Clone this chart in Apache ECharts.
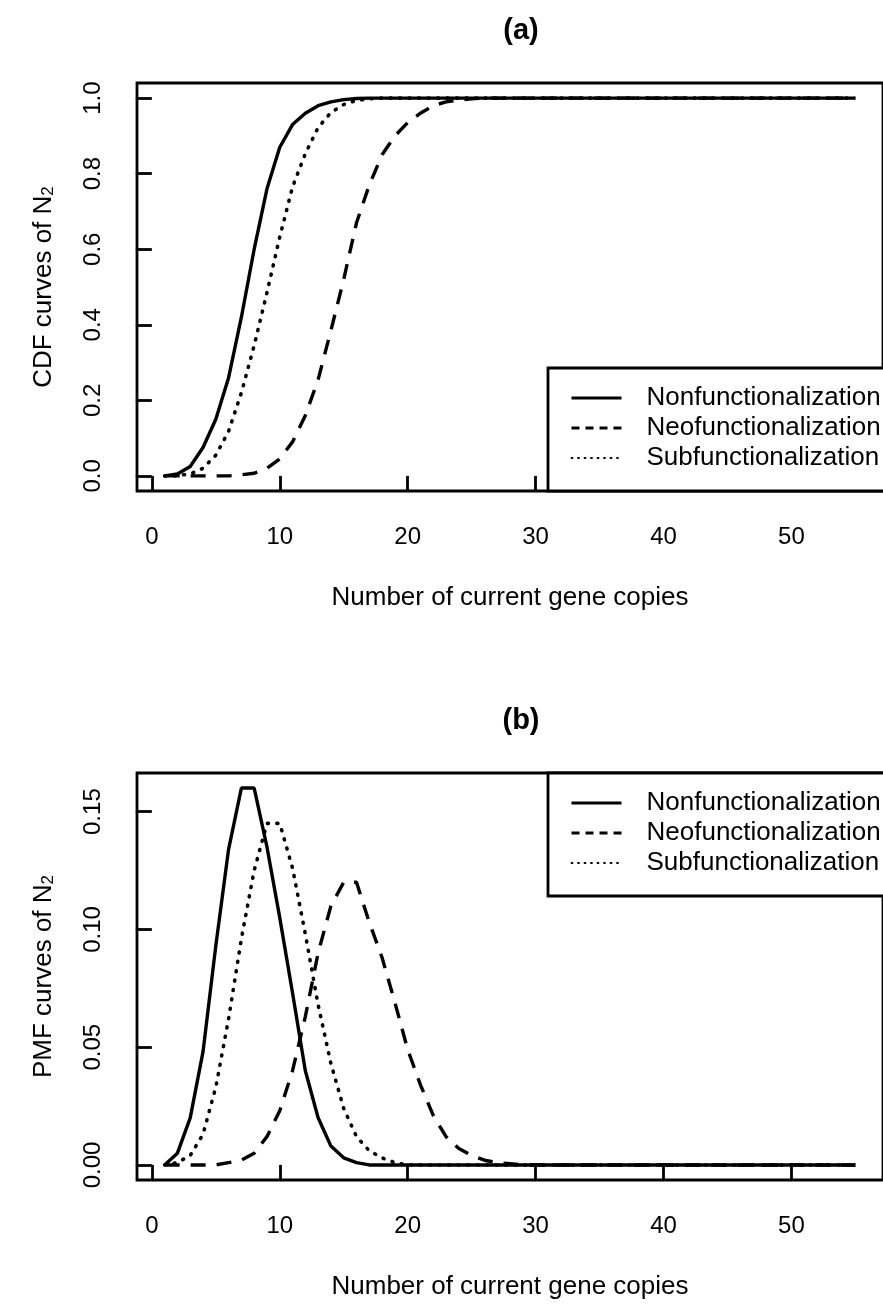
<!DOCTYPE html>
<html>
<head>
<meta charset="utf-8">
<title>CDF / PMF of N2</title>
<script src="https://cdn.jsdelivr.net/npm/echarts@6/dist/echarts.min.js"></script>
<style>
  html, body { margin: 0; padding: 0; background: #fff; overflow: hidden; }
  #chart { width: 883px; height: 1305px; }
</style>
</head>
<body>
<div id="chart"></div>
<script>
// B data
var counts = [1, 2, 3, 4, 5, 6, 7, 8, 9, 10, 11, 12, 13, 14, 15, 16, 17, 18, 19, 20,
  21, 22, 23, 24, 25, 26, 27, 28, 29, 30, 31, 32, 33, 34, 35, 36, 37, 38, 39, 40,
  41, 42, 43, 44, 45, 46, 47, 48, 49, 50, 51, 52, 53, 54, 55]
var seriesNames = ['Nonfunctionalization', 'Neofunctionalization', 'Subfunctionalization']
var xTicks = [0, 10, 20, 30, 40, 50]
var cdfTicks = [0, 0.2, 0.4, 0.6, 0.8, 1.0]
var pmfTicks = [0, 0.05, 0.10, 0.15]

// (a) CDF
var cdfNon = [0, 0.005, 0.025, 0.075, 0.15, 0.26, 0.42, 0.6, 0.76, 0.87,
  0.93, 0.96, 0.98, 0.99, 0.996, 0.999, 1, 1, 1, 1,
  1, 1, 1, 1, 1, 1, 1, 1, 1, 1, 1, 1, 1, 1, 1, 1, 1, 1, 1, 1,
  1, 1, 1, 1, 1, 1, 1, 1, 1, 1, 1, 1, 1, 1, 1]
var cdfNeo = [0, 0, 0, 0, 0, 0, 0.003, 0.007, 0.02, 0.045,
  0.09, 0.16, 0.255, 0.385, 0.52, 0.67, 0.77, 0.85, 0.9, 0.935,
  0.96, 0.98, 0.99, 0.995, 0.998, 1, 1, 1, 1, 1, 1, 1, 1, 1, 1, 1, 1, 1, 1, 1,
  1, 1, 1, 1, 1, 1, 1, 1, 1, 1, 1, 1, 1, 1, 1]
var cdfSub = [0, 0.001, 0.005, 0.02, 0.055, 0.118, 0.22, 0.345, 0.485, 0.632,
  0.765, 0.853, 0.922, 0.962, 0.983, 0.994, 0.998, 1, 1, 1,
  1, 1, 1, 1, 1, 1, 1, 1, 1, 1, 1, 1, 1, 1, 1, 1, 1, 1, 1, 1,
  1, 1, 1, 1, 1, 1, 1, 1, 1, 1, 1, 1, 1, 1, 1]

// (b) PMF
var pmfNon = [0, 0.005, 0.02, 0.048, 0.093, 0.134, 0.16, 0.16, 0.135, 0.105,
  0.073, 0.04, 0.02, 0.008, 0.003, 0.001, 0, 0, 0, 0,
  0, 0, 0, 0, 0, 0, 0, 0, 0, 0, 0, 0, 0, 0, 0, 0, 0, 0, 0, 0,
  0, 0, 0, 0, 0, 0, 0, 0, 0, 0, 0, 0, 0, 0, 0]
var pmfNeo = [0, 0, 0, 0, 0, 0.001, 0.002, 0.005, 0.012, 0.023,
  0.04, 0.063, 0.09, 0.11, 0.12, 0.12, 0.103, 0.088, 0.069, 0.049,
  0.034, 0.021, 0.012, 0.007, 0.004, 0.002, 0.001, 0.0005, 0, 0,
  0, 0, 0, 0, 0, 0, 0, 0, 0, 0,
  0, 0, 0, 0, 0, 0, 0, 0, 0, 0, 0, 0, 0, 0, 0]
var pmfSub = [0, 0.001, 0.004, 0.013, 0.033, 0.062, 0.096, 0.125, 0.145, 0.145,
  0.126, 0.098, 0.068, 0.043, 0.024, 0.012, 0.006, 0.003, 0.001, 0,
  0, 0, 0, 0, 0, 0, 0, 0, 0, 0, 0, 0, 0, 0, 0, 0, 0, 0, 0, 0,
  0, 0, 0, 0, 0, 0, 0, 0, 0, 0, 0, 0, 0, 0, 0]
// E data

var FONT = 'Liberation Sans, Arial, Helvetica, sans-serif'
var lineTypes = [
  { type: 'solid', width: 3.4 },
  { type: [15, 11], width: 3.4 },
  { type: [1, 8.5], width: 3.6, cap: 'round' }
]
var legendLines = [
  { type: 'solid', width: 3 },
  { type: [8, 6], width: 3 },
  { type: [1, 5.5], width: 1.8, cap: 'round' }
]

function pairs (ys) {
  return counts.map(function (c, i) { return [c, ys[i]] })
}

function makeXAxis (gi) {
  return {
    type: 'value', gridIndex: gi, min: -1.16, max: 57.16,
    name: 'Number of current gene copies', nameLocation: 'middle', nameGap: 94,
    nameTextStyle: { fontFamily: FONT, fontSize: 26, color: '#000' },
    axisLine: { show: false },
    splitLine: { show: false },
    axisTick: { customValues: xTicks, length: 16, lineStyle: { color: '#000', width: 2.8 } },
    axisLabel: { customValues: xTicks, margin: 34, fontFamily: FONT, fontSize: 24, color: '#000' }
  }
}

function makeYAxis (gi, min, max, ticks, digits, label) {
  return {
    type: 'value', gridIndex: gi, min: min, max: max,
    name: '{t|' + label + '}{s|2}', nameLocation: 'middle', nameGap: 80, nameRotate: 90,
    nameTextStyle: {
      color: '#000',
      rich: {
        t: { fontFamily: FONT, fontSize: 26, color: '#000' },
        s: { fontFamily: FONT, fontSize: 17, color: '#000', verticalAlign: 'bottom' }
      }
    },
    axisLine: { show: false },
    splitLine: { show: false },
    axisTick: { customValues: ticks, length: 16, lineStyle: { color: '#000', width: 2.8 } },
    axisLabel: {
      customValues: ticks, rotate: 90, margin: 32, fontFamily: FONT, fontSize: 24, color: '#000',
      formatter: function (v) { return v.toFixed(digits) }
    }
  }
}

// legend box sits in a corner of each panel, right edge off-canvas like the original
function makeLegend (top) {
  return {
    left: 548, top: top, orient: 'vertical', selectedMode: false,
    padding: [15, 25, 18, 22], itemGap: 0, itemWidth: 50, itemHeight: 14,
    borderColor: '#000', borderWidth: 2.8, backgroundColor: '#fff',
    itemStyle: { color: 'rgba(0,0,0,0)', borderWidth: 0 },
    textStyle: { fontFamily: FONT, fontSize: 26, color: '#000', lineHeight: 30, padding: [0, 0, 0, 20] },
    data: seriesNames.map(function (n, i) {
      return { name: n, lineStyle: Object.assign({ color: '#000' }, legendLines[i]) }
    })
  }
}

function makeSeries (name, i, gi, ys) {
  return {
    name: name, type: 'line', xAxisIndex: gi, yAxisIndex: gi,
    data: pairs(ys), symbol: 'none', smooth: false, silent: true,
    lineStyle: Object.assign({ color: '#000' }, lineTypes[i]),
    itemStyle: { color: '#000' }
  }
}

var myChart = echarts.init(document.getElementById('chart'), null, { renderer: 'canvas' })

var option = {
  backgroundColor: '#fff',
  animation: false,
  title: [
    { text: '(a)', left: 516, top: 11, textAlign: 'center',
      textStyle: { fontFamily: FONT, fontSize: 29, fontWeight: 'bold', color: '#000' } },
    { text: '(b)', left: 516, top: 701, textAlign: 'center',
      textStyle: { fontFamily: FONT, fontSize: 29, fontWeight: 'bold', color: '#000' } }
  ],
  grid: [
    { left: 137, top: 83, width: 758, height: 408, show: true, borderColor: '#000', borderWidth: 2.8 },
    { left: 137, top: 773, width: 758, height: 407, show: true, borderColor: '#000', borderWidth: 2.8 }
  ],
  xAxis: [makeXAxis(0), makeXAxis(1)],
  yAxis: [
    makeYAxis(0, -0.04, 1.04, cdfTicks, 1, 'CDF curves of N'),
    makeYAxis(1, -0.0064, 0.1664, pmfTicks, 2, 'PMF curves of N')
  ],
  legend: [makeLegend(368), makeLegend(773)],
  series: [
    makeSeries(seriesNames[0], 0, 0, cdfNon),
    makeSeries(seriesNames[1], 1, 0, cdfNeo),
    makeSeries(seriesNames[2], 2, 0, cdfSub),
    makeSeries(seriesNames[0], 0, 1, pmfNon),
    makeSeries(seriesNames[1], 1, 1, pmfNeo),
    makeSeries(seriesNames[2], 2, 1, pmfSub)
  ]
}

myChart.setOption(option)
</script>
</body>
</html>
